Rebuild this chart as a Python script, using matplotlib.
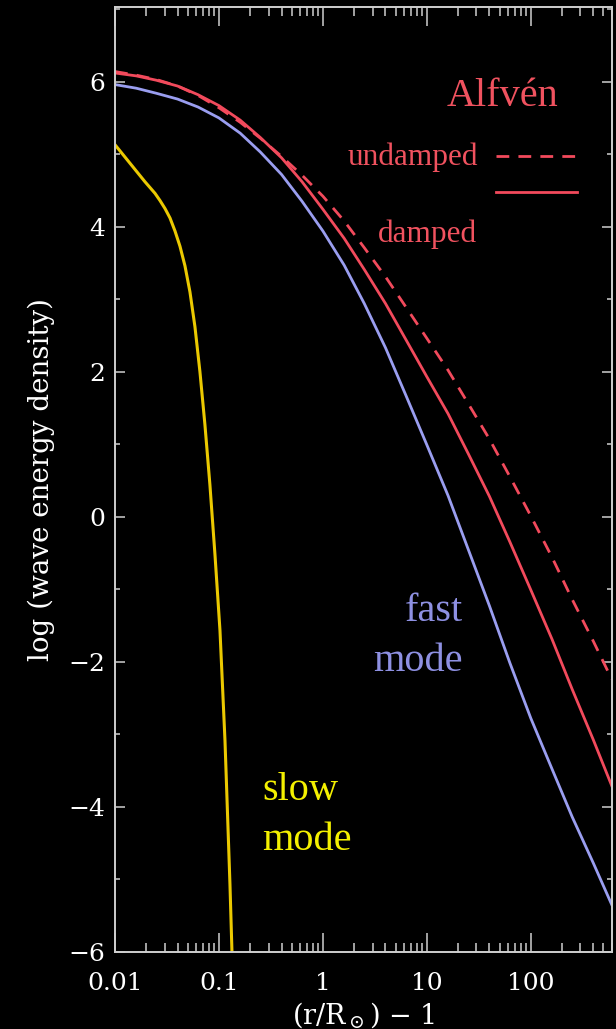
import matplotlib
matplotlib.use("Agg")
import matplotlib.pyplot as plt
from matplotlib.ticker import LogLocator, FixedLocator, NullFormatter, FixedFormatter, MultipleLocator

# ---- data ----
x_grid = [0.01, 0.016, 0.025, 0.04, 0.063, 0.1, 0.16, 0.25, 0.4, 0.63,
          1, 1.6, 2.5, 4, 6.3, 10, 16, 25, 40, 63, 100, 160, 250, 400, 600]

alfven_undamped = [6.14, 6.09, 6.03, 5.94, 5.81, 5.64, 5.44, 5.22, 4.97, 4.71,
                   4.42, 4.08, 3.71, 3.31, 2.89, 2.46, 2.02, 1.56, 1.07, 0.55,
                   0.01, -0.56, -1.14, -1.72, -2.24]
alfven_damped = [6.12, 6.08, 6.02, 5.94, 5.82, 5.67, 5.47, 5.23, 4.95, 4.62,
                 4.24, 3.84, 3.41, 2.94, 2.44, 1.93, 1.42, 0.87, 0.28, -0.35,
                 -1.01, -1.69, -2.38, -3.08, -3.71]
fast_mode = [5.96, 5.91, 5.84, 5.76, 5.65, 5.50, 5.29, 5.03, 4.72, 4.35,
             3.94, 3.47, 2.94, 2.33, 1.67, 0.99, 0.29, -0.45, -1.23, -2.02,
             -2.78, -3.48, -4.14, -4.78, -5.35]

slow_x = [0.01, 0.01248, 0.01556, 0.01941, 0.02425, 0.0271, 0.03027, 0.03381,
          0.03777, 0.04217, 0.0471, 0.0526, 0.05875, 0.06561, 0.07328, 0.08185,
          0.09162, 0.1023, 0.1143, 0.1276, 0.1334, 0.1365]
slow_mode = [5.13, 4.96, 4.79, 4.62, 4.46, 4.36, 4.25, 4.12,
             3.94, 3.73, 3.46, 3.10, 2.62, 2.00, 1.27, 0.44,
             -0.53, -1.57, -3.09, -5.07, -6.00, -6.53]

x_ticks = [0.01, 0.1, 1, 10, 100]
x_ticklabels = ["0.01", "0.1", "1", "10", "100"]
y_ticks = [-6, -4, -2, 0, 2, 4, 6]
y_ticklabels = ["\u22126", "\u22124", "\u22122", "0", "2", "4", "6"]

# ---- style ----
RED = "#F24A5C"
RED_TXT = "#F0525F"
BLUE = "#9A9EF0"
BLUE_TXT = "#8E90E2"
YELLOW = "#EBC900"
YELLOW_TXT = "#F4F000"
FRAME = "#CFCFCF"
DASH = (4.6, 3.3)

plt.rcParams["font.family"] = ["DejaVu Serif"]
plt.rcParams["mathtext.fontset"] = "dejavuserif"

fig = plt.figure(figsize=(6.16, 10.29), dpi=100, facecolor="black")
ax = fig.add_axes([115 / 616, (1029 - 951.7) / 1029, 496.7 / 616, 944.7 / 1029])
ax.set_facecolor("black")

ax.plot(x_grid, alfven_undamped, color=RED, lw=2.0, dashes=DASH)
ax.plot(x_grid, alfven_damped, color=RED, lw=2.0)
ax.plot(x_grid, fast_mode, color=BLUE, lw=2.0)
ax.plot(slow_x, slow_mode, color=YELLOW, lw=2.2)

ax.set_xscale("log")
ax.set_xlim(0.01, 600)
ax.set_ylim(-6, 7.03)

for s in ax.spines.values():
    s.set_color(FRAME)
    s.set_linewidth(1.4)

ax.xaxis.set_major_locator(FixedLocator(x_ticks))
ax.xaxis.set_major_formatter(FixedFormatter(x_ticklabels))
ax.xaxis.set_minor_locator(LogLocator(base=10, subs=range(2, 10), numticks=20))
ax.xaxis.set_minor_formatter(NullFormatter())
ax.yaxis.set_major_locator(FixedLocator(y_ticks))
ax.yaxis.set_major_formatter(FixedFormatter(y_ticklabels))
ax.yaxis.set_minor_locator(MultipleLocator(1))

ax.tick_params(axis="both", which="both", direction="in", colors=FRAME,
               top=True, right=True, width=1.1, labelcolor="white", labelsize=18)
ax.tick_params(axis="x", which="major", length=13.5, pad=14.5)
ax.tick_params(axis="x", which="minor", length=6.5)
ax.tick_params(axis="y", which="major", length=7.2, pad=7)
ax.tick_params(axis="y", which="minor", length=3.6)

ax.set_xlabel(r"(r/R$_\odot$) $-$ 1", color="white", fontsize=19.5, labelpad=4)
ax.set_ylabel("log (wave energy density)", color="white", fontsize=20, labelpad=10)

# ---- annotations ----
TF = "Liberation Serif"
ax.text(0.780, 0.8955, "Alfvén", transform=ax.transAxes, color=RED_TXT,
        fontsize=29, family=TF, ha="center", va="baseline")
ax.text(0.730, 0.8328, "undamped", transform=ax.transAxes, color=RED_TXT,
        fontsize=22.5, family=TF, ha="right", va="baseline")
ax.text(0.729, 0.7516, "damped", transform=ax.transAxes, color=RED_TXT,
        fontsize=22.5, family=TF, ha="right", va="baseline")
ax.plot([0.768, 0.930], [0.842, 0.842], transform=ax.transAxes, color=RED,
        lw=2.0, dashes=DASH)
ax.plot([0.768, 0.930], [0.804, 0.804], transform=ax.transAxes, color=RED, lw=2.0)

ax.text(0.700, 0.350, "fast", transform=ax.transAxes, color=BLUE_TXT,
        fontsize=29, family=TF, ha="right", va="baseline")
ax.text(0.700, 0.297, "mode", transform=ax.transAxes, color=BLUE_TXT,
        fontsize=29, family=TF, ha="right", va="baseline")
ax.text(0.296, 0.1606, "slow", transform=ax.transAxes, color=YELLOW_TXT,
        fontsize=29, family=TF, ha="left", va="baseline")
ax.text(0.296, 0.1076, "mode", transform=ax.transAxes, color=YELLOW_TXT,
        fontsize=29, family=TF, ha="left", va="baseline")

fig.savefig("out.png", dpi=100, facecolor="black")
